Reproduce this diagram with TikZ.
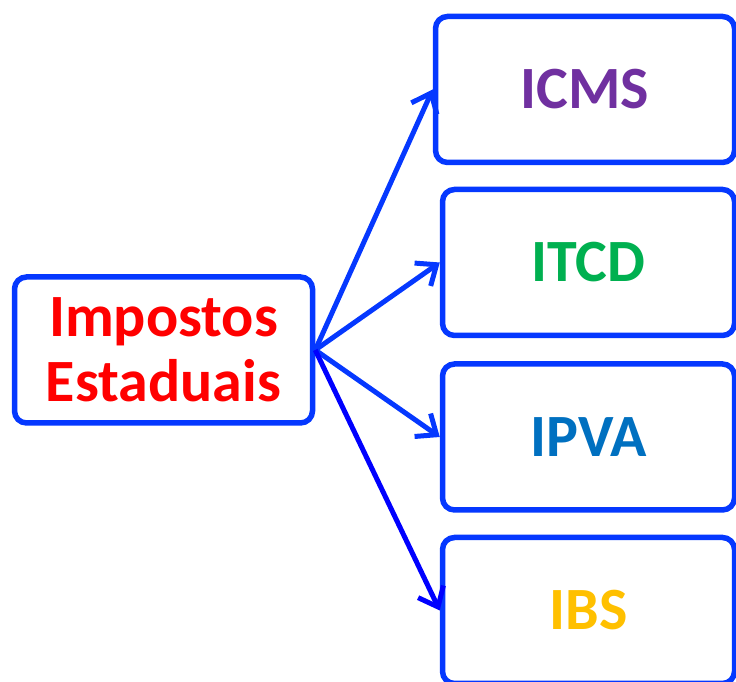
\documentclass[tikz,border=0pt]{standalone}
\usepackage{fontspec}
\setmainfont{Carlito}
\usepackage{tikz}
\usetikzlibrary{arrows.meta}
\definecolor{azulborda}{RGB}{5,56,255}
\definecolor{azulseta}{RGB}{0,0,255}
\definecolor{roxo}{RGB}{112,48,160}
\definecolor{verde}{RGB}{0,176,80}
\definecolor{azultxt}{RGB}{0,112,192}
\definecolor{amarelo}{RGB}{255,192,0}

\begin{document}
\begin{tikzpicture} [x = 1pt, y = 1pt,
caixa/.style = {draw = azulborda, line width = 5.5pt, rounded corners = 12pt, fill = white,
  minimum height = 146pt, align = center, font = \fontsize{60}{65}\selectfont\bfseries},
seta/.style = {draw = azulborda, line width = 5pt, -{Straight Barb[length = 17pt, width = 28pt]}}]
\useasboundingbox (0,0) rectangle (736,682);
\node[caixa, minimum width = 298pt, text = red] (imp) at (163.5,332) {Impostos\\Estaduais};
\node[caixa, minimum width = 299pt, text = roxo] (icms) at (585,592.5) {ICMS};
\node[caixa, minimum width = 292pt, text = verde] (itcd) at (588.5,419.5) {ITCD};
\node[caixa, minimum width = 292pt, text = azultxt] (ipva) at (588.5,245) {IPVA};
\node[caixa, minimum width = 292pt, text = amarelo] (ibs) at (588.5,71.5) {IBS};
\draw[seta] (imp.east) -- (icms.west);
\draw[seta] (imp.east) -- (itcd.west);
\draw[seta] (imp.east) -- (ipva.west);
\draw[seta, draw = azulseta] (imp.east) -- (ibs.west);
\end{tikzpicture}
\end{document}
